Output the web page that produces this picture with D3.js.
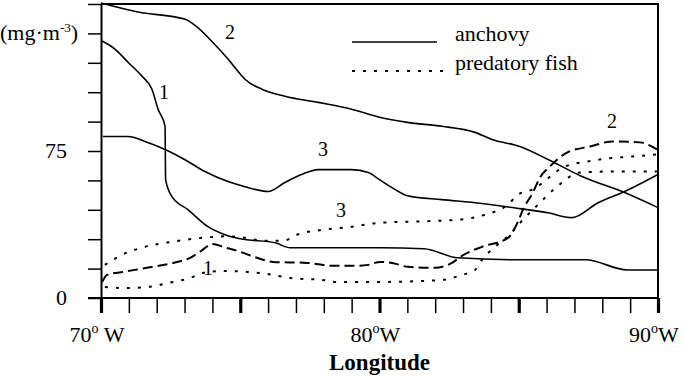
<!DOCTYPE html>
<html>
<head>
<meta charset="utf-8">
<script src="https://cdn.jsdelivr.net/npm/d3@7"></script>
<style>
  body { margin: 0; background: #fff; }
  svg { display: block; }
  text { font-family: "Liberation Serif", "Times New Roman", serif; fill: #000; }
</style>
</head>
<body>
<svg></svg>
<script>
// Anchovy curves (solid), [longitude W, mg/m3]
const anchovy1 = [[70.04,131.1],[70.5,127],[70.97,120.3],[71.47,113.2],[71.83,106.5],[72.05,96.3],[72.3,87.6],[72.32,60.4],[72.55,51.7],[73.12,45.1],[73.84,36.4],[74.45,32.3],[75,30.2],[76.25,28.2],[76.8,25.6],[80,25.6],[81.6,25.1],[82.8,20.5],[85.05,19.5],[87.4,19.5],[88.9,14.3],[90,14.3]];
const anchovy2 = [[70,150.5],[71.33,145.9],[73,142.3],[73.4,138.8],[74,130.6],[74.56,121.9],[74.9,116],[75.17,111.6],[75.78,106.5],[76.6,102.9],[77.8,99.8],[79,96.3],[80,92.2],[81,89.6],[82.24,87.6],[83.43,84.5],[84.04,80.9],[85.04,77.3],[86.05,70.7],[87.27,62],[88.8,53.8],[90,46.1]];
const anchovy3 = [[70.07,82.4],[70.97,82.4],[71.58,79.9],[72.3,75.8],[73,70.7],[73.73,64.5],[74.56,59.4],[75.17,56.8],[76,54.3],[76.6,58.9],[77.2,63],[77.8,65.5],[79,65.5],[79.6,64],[80,60.4],[80.45,56.3],[81,52.2],[82.24,50.2],[83.43,48.6],[85.04,45.6],[86.05,43.5],[86.9,41],[87.85,48.6],[88.8,54.3],[90,63]];

// Predatory fish curves (dotted / dashed)
const fish1 = [[70.14,5.6],[70.79,5.1],[71.65,5.6],[72.59,8.2],[73.2,10.2],[73.66,12.8],[74.38,13.8],[75.24,13.3],[75.96,12.3],[76.79,10.2],[77.97,9.2],[78.4,8.2],[80.02,8.2],[82.24,9.2],[82.96,11.8],[83.43,14.3],[83.68,19.5],[84.15,26.1],[84.65,32],[85.15,39.9],[85.76,48.6],[86.37,56.8],[87.2,64],[88.17,64.5],[89.96,64.5]];
const fish2 = [[70.04,8.2],[70.22,11.8],[70.79,13.3],[71.65,15.4],[72.59,17.9],[73.2,20.5],[73.55,23.6],[74.02,27.6],[74.38,26.1],[74.99,23.6],[75.6,20.5],[76.18,18.4],[77.4,17.9],[78.33,16.4],[79.01,16.4],[79.59,16.9],[80.02,18.4],[80.45,17.9],[81.02,15.9],[81.99,15.4],[82.6,17.9],[82.96,21.5],[83.68,26.1],[84.61,30.7],[84.97,38.9],[85.15,45.1],[85.51,53.8],[85.76,61.4],[86.12,67.1],[86.73,74.2],[87.56,77.3],[88.38,79.9],[89.35,79.4],[89.96,75.8]];
const fish3 = [[70.14,16.9],[70.75,22],[71.58,26.1],[72.55,28.7],[73.63,30.7],[74.56,31.5],[75,31],[75.89,29.2],[76.54,29.2],[77.04,32.3],[77.97,34.8],[79.01,36.4],[80.02,38.4],[81.02,38.9],[82.82,39.9],[83.79,42.5],[84.61,47.6],[84.97,52.7],[85.48,55.3],[86.66,67.1],[87.45,69.6],[88.2,71.2],[89.07,72.2],[89.96,73.2]];

// Curve number labels [text, longitude, value]
const curveLabels = [["2",74.63,135.7],["1",72.26,105],["3",77.97,75.8],["3",78.62,45],["1",73.84,15.4],["2",88.35,90.1]];

// Axis ticks and labels
const yTickValues = d3.range(0, 151, 15);
const yTickLabels = { 0: "0", 75: "75" };
const xTickValues = d3.range(70, 91, 1);
const xMajorTicks = [70, 75, 80, 85, 90];
const xTickLabels = [[70, "70", " W"], [80, "80", "W"], [90, "90", "W"]];

const width = 685, height = 377;
const svg = d3.select("svg").attr("width", width).attr("height", height);

const x = d3.scaleLinear().domain([70, 90]).range([101, 658]);
const y = d3.scaleLinear().domain([0, 150]).range([298, 4]);

// frame (top and right)
svg.append("path")
    .attr("d", `M${x(70)},${y(150)}H${x(90)}V${y(0)}`)
    .attr("fill", "none").attr("stroke", "#000").attr("stroke-width", 2);

// Y axis
const yAxis = svg.append("g")
    .attr("transform", `translate(${x(70)},0)`)
    .call(d3.axisLeft(y).tickValues(yTickValues).tickSize(13).tickSizeOuter(0).tickFormat(""));
yAxis.select(".domain").attr("stroke-width", 2);
yAxis.selectAll(".tick line").attr("stroke-width", 1.5);

yTickValues.filter(v => yTickLabels[v]).forEach(v => {
    svg.append("text")
        .attr("x", 67).attr("y", y(v) + 7)
        .attr("text-anchor", "end")
        .style("font-size", "22px")
        .text(yTickLabels[v]);
});

// unit label at the 135 tick
const unit = svg.append("text")
    .attr("x", 0).attr("y", y(135) + 7)
    .style("font-size", "22px");
unit.append("tspan").text("(mg·m");
unit.append("tspan").attr("dy", -8).style("font-size", "13px").text("-3");
unit.append("tspan").attr("dy", 8).text(")");

// X axis
const xAxis = svg.append("g")
    .attr("transform", `translate(0,${y(0)})`)
    .call(d3.axisBottom(x).tickValues(xTickValues).tickSize(15).tickSizeOuter(0).tickFormat(""));
xAxis.select(".domain").remove();
xAxis.selectAll(".tick line")
    .attr("stroke-width", d => xMajorTicks.includes(d) ? 3.2 : 1.5);
svg.append("line")
    .attr("x1", 88).attr("x2", x(90))
    .attr("y1", y(0)).attr("y2", y(0))
    .attr("stroke", "#000").attr("stroke-width", 2);

xTickLabels.forEach(([v, num, rest]) => {
    const t = svg.append("text")
        .attr("x", x(v) - 4).attr("y", y(0) + 44)
        .attr("text-anchor", "middle")
        .style("font-size", "22px");
    t.append("tspan").text(num);
    t.append("tspan").attr("dy", -9).style("font-size", "14px").text("o");
    t.append("tspan").attr("dy", 9).text(rest);
});

svg.append("text")
    .attr("x", x(80)).attr("y", 370)
    .attr("text-anchor", "middle")
    .style("font-size", "23px").style("font-weight", "bold")
    .text("Longitude");

// curves
const line = d3.line()
    .x(d => x(d[0]))
    .y(d => y(d[1]))
    .curve(d3.curveMonotoneX);

const series = [
    { data: anchovy1, dash: null },
    { data: anchovy2, dash: null },
    { data: anchovy3, dash: null },
    { data: fish1, dash: "3,8" },
    { data: fish2, dash: "10,5" },
    { data: fish3, dash: "3,8" }
];

svg.selectAll(".curve")
    .data(series)
    .enter().append("path")
    .attr("class", "curve")
    .attr("d", d => line(d.data))
    .attr("fill", "none")
    .attr("stroke", "#000")
    .attr("stroke-width", d => d.dash ? 2 : 1.6)
    .attr("stroke-dasharray", d => d.dash);

svg.selectAll(".curve-label")
    .data(curveLabels)
    .enter().append("text")
    .attr("class", "curve-label")
    .attr("x", d => x(d[1]))
    .attr("y", d => y(d[2]) + 7)
    .attr("text-anchor", "middle")
    .style("font-size", "20px")
    .text(d => d[0]);

// legend
const legendItems = [["anchovy", null, 352, 437, 42], ["predatory fish", "3,8", 352, 446, 71]];
legendItems.forEach(([name, dash, x1, x2, ly]) => {
    svg.append("line")
        .attr("x1", x1).attr("x2", x2).attr("y1", ly).attr("y2", ly)
        .attr("stroke", "#000").attr("stroke-width", dash ? 2 : 1.6)
        .attr("stroke-dasharray", dash);
    svg.append("text")
        .attr("x", 455).attr("y", ly - 1)
        .style("font-size", "22px")
        .text(name);
});
</script>
</body>
</html>
